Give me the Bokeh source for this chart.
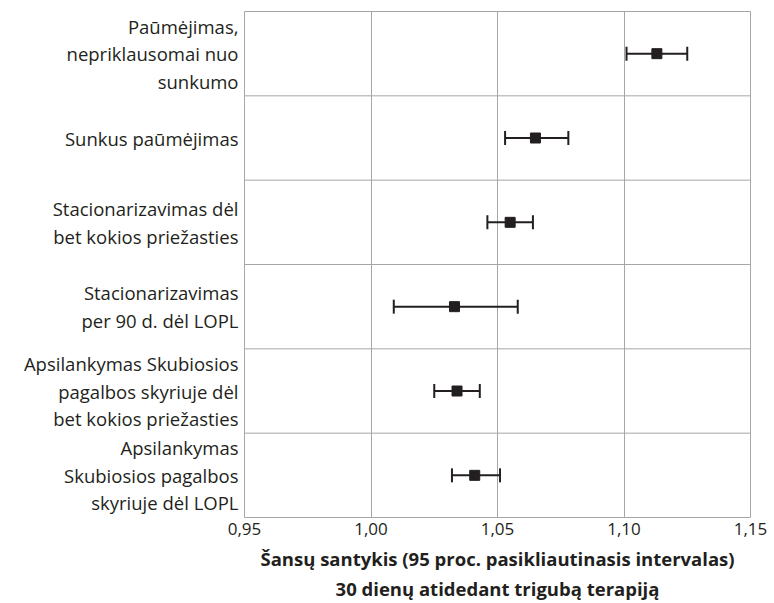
from bokeh.plotting import figure
from bokeh.models import (FactorRange, Range1d, FixedTicker, Whisker, TeeHead,
                          ColumnDataSource, Span)
from bokeh.embed import file_html
from bokeh.resources import INLINE

categories = [
    "Paūmėjimas,\nnepriklausomai nuo\nsunkumo",
    "Sunkus paūmėjimas",
    "Stacionarizavimas dėl\nbet kokios priežasties",
    "Stacionarizavimas\nper 90 d. dėl LOPL",
    "Apsilankymas Skubiosios\npagalbos skyriuje dėl\nbet kokios priežasties",
    "Apsilankymas\nSkubiosios pagalbos\nskyriuje dėl LOPL",
]
odds = [1.113, 1.065, 1.055, 1.033, 1.034, 1.041]
lower = [1.101, 1.053, 1.046, 1.009, 1.025, 1.032]
upper = [1.125, 1.078, 1.064, 1.058, 1.043, 1.051]
ticks = [0.95, 1.00, 1.05, 1.10, 1.15]
tick_labels = ["0,95", "1,00", "1,05", "1,10", "1,15"]
x_title = "Šansų santykis (95 proc. pasikliautinasis intervalas)\n30 dienų atidedant trigubą terapiją"

FONT = "Open Sans"
DARK = "#231f20"
GRID = "#a6a6a6"

factors = list(reversed(categories))

W, H = 770, 603
p = figure(width=W, height=H, output_backend="svg", toolbar_location=None,
           y_range=FactorRange(factors=factors),
           x_range=Range1d(ticks[0], ticks[-1]),
           min_border_left=244, min_border_right=W - 750, min_border_top=11,
           min_border_bottom=H - 517)

p.outline_line_color = GRID
p.outline_line_width = 1

# category axis (multi-line labels)
p.yaxis.axis_line_color = None
p.yaxis.major_tick_line_color = None
p.yaxis.minor_tick_line_color = None
p.yaxis.major_tick_out = 0
p.yaxis.major_tick_in = 0
p.yaxis.major_label_text_font = FONT
p.yaxis.major_label_text_font_size = "18.5px"
p.yaxis.major_label_text_color = DARK
p.yaxis.major_label_text_align = "right"
p.yaxis.major_label_text_line_height = 1.1
p.yaxis.major_label_standoff = 6
p.ygrid.visible = False

p.xaxis.ticker = FixedTicker(ticks=ticks)
p.xaxis.major_label_overrides = {t: l for t, l in zip(ticks, tick_labels)}
p.xaxis.axis_line_color = None
p.xaxis.major_tick_line_color = None
p.xaxis.minor_tick_line_color = None
p.xaxis.major_tick_out = 0
p.xaxis.major_tick_in = 0
p.xaxis.major_label_text_font = FONT
p.xaxis.major_label_text_font_size = "17px"
p.xaxis.major_label_text_color = DARK
p.xaxis.major_label_standoff = 5
p.xaxis.axis_label = x_title
p.xaxis.axis_label_text_font = FONT
p.xaxis.axis_label_text_font_style = "bold"
p.xaxis.axis_label_text_font_size = "18.5px"
p.xaxis.axis_label_text_color = DARK
p.xaxis.axis_label_standoff = 8

p.xgrid.ticker = FixedTicker(ticks=ticks)
p.xgrid.grid_line_color = GRID
p.xgrid.grid_line_width = 1

for b in range(1, len(categories)):
    p.add_layout(Span(location=b, dimension="width", line_color=GRID, line_width=1))

src = ColumnDataSource(dict(cat=categories, odds=odds, lower=lower, upper=upper))
wh = Whisker(base="cat", lower="lower", upper="upper", dimension="width", source=src,
             line_color=DARK, line_width=2,
             lower_head=TeeHead(size=14, line_color=DARK, line_width=2),
             upper_head=TeeHead(size=14, line_color=DARK, line_width=2))
p.add_layout(wh)
p.scatter(x="odds", y="cat", source=src, marker="square", size=10,
          fill_color=DARK, line_color=DARK)

open("out.html", "w").write(file_html(p, INLINE))
